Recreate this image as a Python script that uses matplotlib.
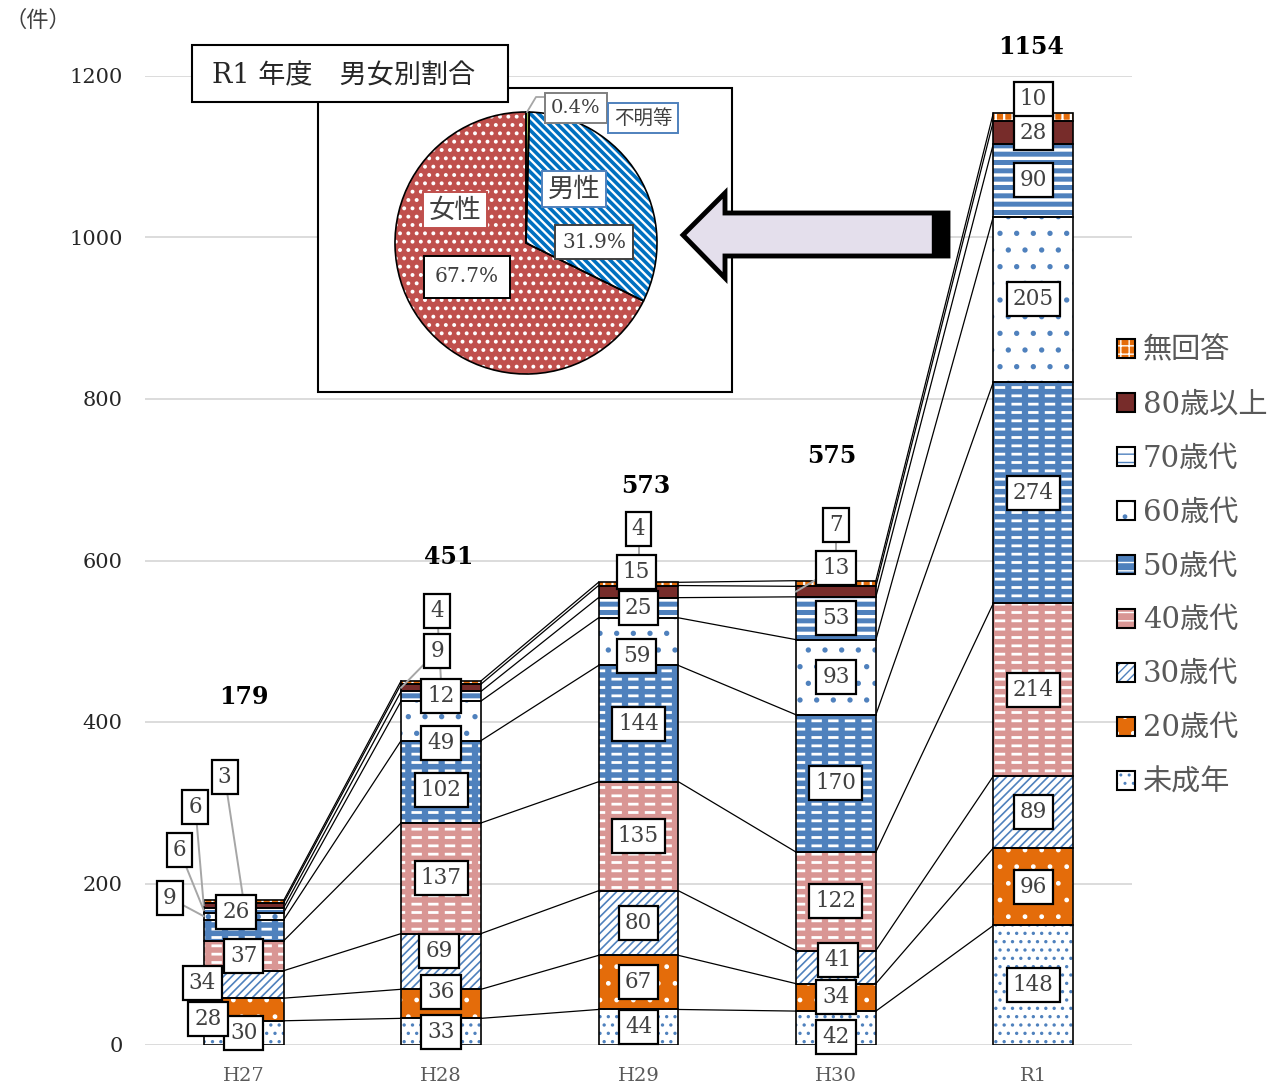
import matplotlib
matplotlib.use("Agg")
import matplotlib.pyplot as plt
from matplotlib.patches import Rectangle, Polygon
from matplotlib.lines import Line2D

plt.rcParams['font.family'] = ['DejaVu Serif', 'Noto Sans CJK JP']

# consultation counts by age group, per year
years = ["H27", "H28", "H29", "H30", "R1"]
ages = ["未成年", "20歳代", "30歳代", "40歳代", "50歳代", "60歳代", "70歳代", "80歳以上", "無回答"]
minors = [30, 33, 44, 42, 148]
age20 = [28, 36, 67, 34, 96]
age30 = [34, 69, 80, 41, 89]
age40 = [37, 137, 135, 122, 214]
age50 = [26, 102, 144, 170, 274]
age60 = [9, 49, 59, 93, 205]
age70 = [6, 12, 25, 53, 90]
age80 = [6, 9, 15, 13, 28]
no_answer = [3, 4, 4, 7, 10]
series = [minors, age20, age30, age40, age50, age60, age70, age80, no_answer]

# R1 gender split (%)
pie_labels = ["不明等", "男性", "女性"]
pie_share = [0.4, 31.9, 67.7]

BLUE = "#4F81BD"
# face, hatch, hatch colour, hatch width
styles = [
    ("white", "..", BLUE, 1.2),
    ("#E46C0A", ".", "white", 1.0),
    ("white", "////", BLUE, 1.2),
    ("#D99694", "--", "white", 2.0),
    (BLUE, "--", "white", 2.0),
    ("white", ".", BLUE, 1.4),
    ("white", "--", BLUE, 3.6),
    ("#772C2A", "", "#772C2A", 1.0),
    ("#E46C0A", "++", "white", 1.6),
]
dashed = {3, 4}

W, H = 1281, 1088
def fx(px): return px / W
def fy(py): return 1 - py / H

def hatch_lw(p, lw):
    if hasattr(p, "set_hatch_linewidth"):
        p.set_hatch_linewidth(lw)

# moved labels: (year, series) -> (x offset, y), leader anchor side or None
label_moves = {
    (0, 1): (-0.18, 32, None), (0, 2): (-0.21, 77, None), (0, 4): (-0.04, 165, None),
    (0, 5): (-0.375, 182, "left"), (0, 6): (-0.325, 241, "left"),
    (0, 7): (-0.245, 295, "left"), (0, 8): (-0.096, 332, "mid"),
    (1, 1): (0, 66, None), (1, 2): (-0.01, 116, None), (1, 4): (0, 316, None),
    (1, 5): (0, 374, None), (1, 7): (-0.02, 488, "left"), (1, 8): (-0.02, 537, "mid"),
    (2, 5): (-0.01, 482, None), (2, 7): (-0.01, 586, None), (2, 8): (0, 639, "mid"),
    (3, 0): (0, 10, None), (3, 2): (0.01, 105, None),
    (3, 7): (0, 591, "left"), (3, 8): (0, 644, "mid"),
    (4, 8): (0, 1171, None),
}
total_offsets = [(0, 252), (0.04, 153), (0.035, 119), (-0.02, 154), (-0.01, 82)]

fig = plt.figure(figsize=(W / 100, H / 100), dpi=100)
ax = fig.add_axes([fx(145), fy(1045), fx(1132) - fx(145), (1045 - 76) / H])
ax.set_xlim(-0.5, len(years) - 0.5)
ax.set_ylim(0, 1200)
ax.set_axisbelow(True)
ax.yaxis.grid(True, color="#D9D9D9", lw=1.3)
for s in ax.spines.values():
    s.set_visible(False)
ax.set_yticks(range(0, 1201, 200))
ax.tick_params(axis="y", length=0, pad=16, labelsize=15, labelcolor="#262626")
ax.set_xticks(range(len(years)))
ax.set_xticklabels(years)
ax.tick_params(axis="x", length=0, pad=16, labelsize=14, labelcolor="#595959")

w = 0.405
tops = []
for i in range(len(years)):
    bot = 0
    cum = []
    for j, vals in enumerate(series):
        v = vals[i]
        face, hatch, hc, hw = styles[j]
        (p,) = ax.bar(i, v, w, bottom=bot, color=face, edgecolor=hc,
                      hatch=hatch, linewidth=0, zorder=2)
        hatch_lw(p, hw)
        if j in dashed:
            (q,) = ax.bar(i, v, w, bottom=bot, color="none", edgecolor=face,
                          hatch="|", linewidth=0, zorder=2.1)
            hatch_lw(q, 4.5)
        ax.bar(i, v, w, bottom=bot, fill=False, edgecolor="black", linewidth=1.2, zorder=2.5)

        mid = bot + v / 2
        lx, ly, lead = i, mid, None
        if (i, j) in label_moves:
            dx, ly, lead = label_moves[(i, j)]
            lx = i + dx
        if lead is not None:
            axx = i - w / 2 if lead == "left" else i
            ax.plot([lx, axx], [ly, mid], color="#A6A6A6", lw=1.4, zorder=3,
                    clip_on=False)
        ax.text(lx, ly, str(v), ha="center", va="center", fontsize=15.5,
                color="#404040", zorder=4, clip_on=False,
                bbox=dict(boxstyle="square,pad=0.28", fc="white", ec="black", lw=1.6))
        bot += v
        cum.append(bot)
    tops.append(cum)

# series lines between neighbouring columns
for i in range(len(years) - 1):
    for k in range(len(series)):
        ax.plot([i + w / 2, i + 1 - w / 2], [tops[i][k], tops[i + 1][k]],
                color="black", lw=0.9, zorder=1.5)

for i in range(len(years)):
    dx, dy = total_offsets[i]
    ax.text(i + dx, tops[i][-1] + dy, str(tops[i][-1]), ha="center", va="center",
            fontsize=17, fontweight="bold", color="black", clip_on=False)

fig.text(fx(4), fy(21), "（件）", fontsize=16, color="#404040", va="center")

# legend, last series on top
handles = []
for j in reversed(range(len(series))):
    face, hatch, hc, hw = styles[j]
    a = Rectangle((0, 0), 1, 1, facecolor=face, edgecolor=hc, hatch=hatch, lw=0)
    hatch_lw(a, hw)
    b = Rectangle((0, 0), 1, 1, fill=False, edgecolor="black", lw=1.5)
    handles.append((a, b))
fig.legend(handles, list(reversed(ages)), loc="upper left",
           bbox_to_anchor=(fx(1105), fy(325)), frameon=False, fontsize=21,
           labelcolor="#595959", handlelength=0.62, handleheight=0.62,
           handletextpad=0.28, labelspacing=0.89, borderaxespad=0)

# inset: gender share pie
fig.add_artist(Rectangle((fx(318), fy(392)), fx(732) - fx(318), (392 - 88) / H,
                         transform=fig.transFigure, fc="white", ec="black", lw=1.5, zorder=2))
fig.add_artist(Rectangle((fx(192), fy(102)), fx(508) - fx(192), (102 - 45) / H,
                         transform=fig.transFigure, fc="white", ec="black", lw=1.5, zorder=4))
fig.text(fx(212), fy(76), "R1 年度　男女別割合", fontsize=19.5, color="#262626",
         va="center", zorder=5)

r = 131
pax = fig.add_axes([fx(526 - r), fy(243 + r), 2 * r / W, 2 * r / H], zorder=3)
pie_styles = [("#9BBB59", "", "#9BBB59", 1.0),
              ("white", "\\\\\\\\", "#0070C0", 2.6),
              ("#C0504D", "..", "white", 1.6)]
wedges, _ = pax.pie(pie_share, startangle=90, counterclock=False,
                    colors=[s[0] for s in pie_styles], wedgeprops=dict(linewidth=0))
for wd, (face, hatch, hc, hw) in zip(wedges, pie_styles):
    wd.set_edgecolor(hc)
    wd.set_hatch(hatch)
    hatch_lw(wd, hw)
pax.pie(pie_share, startangle=90, counterclock=False,
        wedgeprops=dict(fill=False, edgecolor="black", linewidth=1.2))
pax.set_xlim(-1, 1)
pax.set_ylim(-1, 1)
pax.set_aspect("equal")
pax.axis("off")

def pie_box(px, py, s, size, ec, pad):
    fig.text(fx(px), fy(py), s, fontsize=size, color="#404040", ha="center", va="center",
             zorder=6, bbox=dict(boxstyle=f"square,pad={pad}", fc="white", ec=ec, lw=1.4))

fig.add_artist(Line2D([fx(546), fx(536), fx(527)], [fy(97), fy(97), fy(112)],
                      transform=fig.transFigure, color="#A6A6A6", lw=1.3, zorder=5))
pie_box(576, 108, f"{pie_share[0]}%", 14, "#7F7F7F", 0.3)
pie_box(643, 118, pie_labels[0], 14, BLUE, 0.3)
pie_box(574, 189, pie_labels[1], 19, BLUE, 0.2)
pie_box(594, 242, f"{pie_share[1]}%", 14.5, "#404040", 0.35)
pie_box(455, 210, pie_labels[2], 19, "#C0504D", 0.2)
pie_box(467, 277, f"{pie_share[2]}%", 14.5, "black", 0.55)

# arrow pointing at the R1 column
arrow = [(683, 235), (725, 193), (725, 213), (948, 213), (948, 256), (725, 256), (725, 278)]
fig.add_artist(Polygon([(fx(x), fy(y)) for x, y in arrow], closed=True,
                       transform=fig.transFigure, fc="#E4DFEC", ec="black", lw=3.5,
                       joinstyle="miter", zorder=7))
fig.add_artist(Rectangle((fx(932), fy(256)), fx(948) - fx(932), (256 - 213) / H,
                         transform=fig.transFigure, fc="black", ec="black", lw=1, zorder=8))

fig.savefig("out.png", dpi=100, facecolor="white")
